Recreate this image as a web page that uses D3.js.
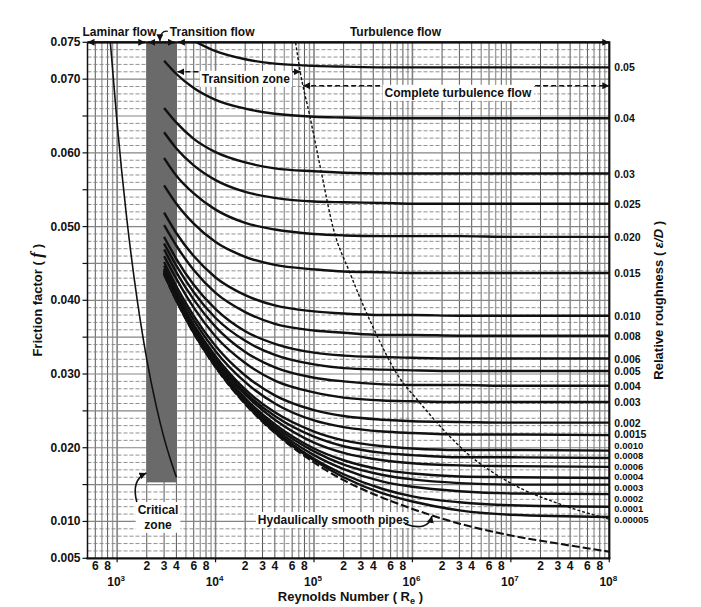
<!DOCTYPE html>
<html>
<head>
<meta charset="utf-8">
<script src="https://cdn.jsdelivr.net/npm/d3@7"></script>
<style>
  body { margin: 0; background: #fff; }
  text { font-family: "Liberation Sans", Arial, sans-serif; font-weight: bold; fill: #111; }
</style>
</head>
<body>
<div id="chart"></div>
<script>
// Reynolds numbers where the roughness curves were read
var reynolds = [3000, 4000, 6000, 1e4, 2e4, 4e4, 1e5, 2e5, 5e5, 1e6, 3e6, 1e7, 1e8];

var roughnessLabels = ["0.05", "0.04", "0.03", "0.025", "0.020", "0.015", "0.010", "0.008",
    "0.006", "0.005", "0.004", "0.003", "0.002", "0.0015", "0.0010", "0.0008",
    "0.0006", "0.0004", "0.0003", "0.0002", "0.0001", "0.00005"];

// friction factor per roughness, one row per label, values at the reynolds above
var frictionCurves = [
    [null, null, 0.0752, 0.0738, 0.0727, 0.0721, 0.0718, 0.0717, 0.0716, 0.0716, 0.0716, 0.0716, 0.0716],
    [0.0725, 0.0707, 0.0688, 0.0672, 0.0660, 0.0653, 0.0649, 0.0648, 0.0647, 0.0647, 0.0647, 0.0647, 0.0647],
    [0.0661, 0.0641, 0.0619, 0.0601, 0.0587, 0.0579, 0.0575, 0.0573, 0.0572, 0.0572, 0.0572, 0.0572, 0.0572],
    [0.0628, 0.0606, 0.0583, 0.0563, 0.0547, 0.0539, 0.0534, 0.0533, 0.0532, 0.0531, 0.0531, 0.0531, 0.0531],
    [0.0593, 0.0569, 0.0545, 0.0523, 0.0505, 0.0496, 0.0490, 0.0488, 0.0487, 0.0487, 0.0487, 0.0486, 0.0486],
    [0.0556, 0.0531, 0.0504, 0.0479, 0.0459, 0.0448, 0.0442, 0.0439, 0.0438, 0.0437, 0.0437, 0.0437, 0.0437],
    [0.0519, 0.0491, 0.0460, 0.0431, 0.0407, 0.0393, 0.0385, 0.0382, 0.0380, 0.0380, 0.0379, 0.0379, 0.0379],
    [0.0502, 0.0474, 0.0441, 0.0410, 0.0384, 0.0368, 0.0359, 0.0356, 0.0353, 0.0353, 0.0352, 0.0352, 0.0352],
    [0.0486, 0.0456, 0.0421, 0.0388, 0.0358, 0.0341, 0.0329, 0.0325, 0.0323, 0.0322, 0.0321, 0.0321, 0.0321],
    [0.0477, 0.0447, 0.0411, 0.0376, 0.0345, 0.0326, 0.0313, 0.0308, 0.0306, 0.0305, 0.0304, 0.0304, 0.0304],
    [0.0469, 0.0438, 0.0401, 0.0364, 0.0330, 0.0309, 0.0295, 0.0290, 0.0286, 0.0285, 0.0285, 0.0284, 0.0284],
    [0.0460, 0.0429, 0.0390, 0.0351, 0.0315, 0.0291, 0.0275, 0.0268, 0.0264, 0.0263, 0.0262, 0.0262, 0.0262],
    [0.0452, 0.0419, 0.0379, 0.0338, 0.0298, 0.0271, 0.0251, 0.0243, 0.0238, 0.0236, 0.0235, 0.0234, 0.0234],
    [0.0447, 0.0414, 0.0373, 0.0331, 0.0289, 0.0260, 0.0237, 0.0228, 0.0222, 0.0220, 0.0218, 0.0218, 0.0217],
    [0.0443, 0.0409, 0.0367, 0.0324, 0.0279, 0.0248, 0.0222, 0.0210, 0.0202, 0.0199, 0.0197, 0.0197, 0.0196],
    [0.0441, 0.0407, 0.0365, 0.0321, 0.0275, 0.0243, 0.0215, 0.0202, 0.0193, 0.0190, 0.0187, 0.0187, 0.0186],
    [0.0440, 0.0405, 0.0362, 0.0318, 0.0272, 0.0238, 0.0207, 0.0193, 0.0183, 0.0179, 0.0176, 0.0175, 0.0174],
    [0.0438, 0.0403, 0.0360, 0.0315, 0.0267, 0.0232, 0.0199, 0.0183, 0.0170, 0.0165, 0.0161, 0.0160, 0.0159],
    [0.0438, 0.0402, 0.0359, 0.0314, 0.0265, 0.0229, 0.0195, 0.0177, 0.0163, 0.0157, 0.0152, 0.0150, 0.0150],
    [0.0437, 0.0401, 0.0358, 0.0312, 0.0263, 0.0226, 0.0190, 0.0171, 0.0154, 0.0147, 0.0141, 0.0138, 0.0137],
    [0.0436, 0.0400, 0.0356, 0.0310, 0.0261, 0.0223, 0.0185, 0.0164, 0.0144, 0.0134, 0.0126, 0.0122, 0.0120],
    [0.0436, 0.0400, 0.0356, 0.0310, 0.0260, 0.0221, 0.0183, 0.0160, 0.0138, 0.0127, 0.0115, 0.0109, 0.0106]
];

// hydraulically smooth pipes
var smoothRe = [3000, 4000, 6000, 1e4, 2e4, 4e4, 1e5, 2e5, 5e5, 1e6, 3e6, 1e7, 3e7, 1e8];
var smoothF = [0.0435, 0.0399, 0.0355, 0.0309, 0.0259, 0.0220, 0.0180, 0.0156, 0.0132, 0.0117, 0.0097, 0.0081, 0.0070, 0.0059];

// laminar flow line
var laminarRe = [853, 1000, 1250, 1500, 2000, 2500, 3000, 3500, 4000];
var laminarF = [0.0750, 0.0640, 0.0512, 0.0427, 0.0320, 0.0256, 0.0213, 0.0183, 0.0160];

// border between transition zone and complete turbulence
var boundaryRe = [65000, 72000, 91000, 119000, 156000, 232000, 433000, 690000, 1.19e6, 1.98e6, 3.56e6, 9.35e6, 3.39e7, 1e8];
var boundaryF = [0.0750, 0.0712, 0.0649, 0.0573, 0.0499, 0.0437, 0.0353, 0.0301, 0.0261, 0.0227, 0.0193, 0.0154, 0.0122, 0.0103];

// critical zone band
var criticalRe = [2000, 4000];
var criticalF = [0.0153, 0.075];

var yTickLabels = [0.075, 0.070, 0.060, 0.050, 0.040, 0.030, 0.020, 0.010, 0.005];
var minorTickDigits = [2, 3, 4, 6, 8];
var decadeExps = [3, 4, 5, 6, 7, 8];

var W = 701, H = 607;
var margin = { top: 42.3, right: 91.7, bottom: 48.7, left: 87.5 };

var svg = d3.select("#chart").append("svg")
    .attr("width", W)
    .attr("height", H);

var x = d3.scaleLog().domain([500, 1e8]).range([margin.left, W - margin.right]);
var y = d3.scaleLinear().domain([0.005, 0.075]).range([H - margin.bottom, margin.top]);
var x0 = x.range()[0], x1 = x.range()[1], y0 = y.range()[0], y1 = y.range()[1];

var defs = svg.append("defs");
defs.append("clipPath").attr("id", "plotClip")
    .append("rect").attr("x", x0).attr("y", y1).attr("width", x1 - x0).attr("height", y0 - y1);
defs.append("marker")
    .attr("id", "arr")
    .attr("viewBox", "0 0 10 10")
    .attr("refX", 10).attr("refY", 5)
    .attr("markerWidth", 7).attr("markerHeight", 7)
    .attr("markerUnits", "userSpaceOnUse")
    .attr("orient", "auto-start-reverse")
    .append("path").attr("d", "M0,0L10,5L0,10z").attr("fill", "#111");

// grid - vertical lines
var gridRe = [];
for (var k = 2; k <= 7; k++) {
    for (var m = 1; m <= 9; m++) {
        var v = m * Math.pow(10, k);
        if (v > 500 * 1.001 && v < 1e8 * 0.999) gridRe.push({ v: v, m: m });
    }
}
var grid = svg.append("g");
grid.selectAll(".vg").data(gridRe).enter().append("line")
    .attr("x1", d => x(d.v)).attr("x2", d => x(d.v))
    .attr("y1", y1).attr("y2", y0)
    .attr("stroke", d => d.m == 1 ? "#808080" : (d.m == 5 || d.m == 7 || d.m == 9) ? "#a0a0a0" : "#444")
    .attr("stroke-width", d => d.m == 1 ? 1.6 : (d.m == 5 || d.m == 7 || d.m == 9) ? 1.4 : 0.9);

// grid - horizontal lines, every 0.001, solid on the 0.005 steps
var gridF = d3.range(6, 75);
grid.selectAll(".hg").data(gridF).enter().append("line")
    .attr("x1", x0).attr("x2", x1)
    .attr("y1", d => y(d / 1000)).attr("y2", d => y(d / 1000))
    .attr("stroke", "#858585")
    .attr("stroke-width", d => d % 5 == 0 ? 1.2 : 0.9)
    .attr("stroke-dasharray", d => d % 5 == 0 ? null : "4,2");

// critical zone
svg.append("rect")
    .attr("x", x(criticalRe[0])).attr("width", x(criticalRe[1]) - x(criticalRe[0]))
    .attr("y", y(criticalF[1])).attr("height", y(criticalF[0]) - y(criticalF[1]))
    .attr("fill", "#6a6a6a");

var plot = svg.append("g").attr("clip-path", "url(#plotClip)");
var line = d3.line()
    .defined(d => d[1] != null)
    .x(d => x(d[0])).y(d => y(d[1]))
    .curve(d3.curveMonotoneX);

plot.append("path")
    .attr("d", line(d3.zip(laminarRe, laminarF)))
    .attr("fill", "none").attr("stroke", "#111").attr("stroke-width", 1.6);

plot.selectAll(".rough").data(frictionCurves).enter().append("path")
    .attr("d", d => line(d3.zip(reynolds, d)))
    .attr("fill", "none").attr("stroke", "#111").attr("stroke-width", 2.4);

plot.append("path")
    .attr("d", line(d3.zip(smoothRe, smoothF)))
    .attr("fill", "none").attr("stroke", "#111").attr("stroke-width", 2.1)
    .attr("stroke-dasharray", "8,3");

plot.append("path")
    .attr("d", line(d3.zip(boundaryRe, boundaryF)))
    .attr("fill", "none").attr("stroke", "#111").attr("stroke-width", 1.4)
    .attr("stroke-dasharray", "3,2");

// frame
svg.append("line").attr("x1", x0).attr("x2", x0).attr("y1", y1).attr("y2", y0)
    .attr("stroke", "#111").attr("stroke-width", 1.5);
svg.append("line").attr("x1", x1).attr("x2", x1).attr("y1", y1 - 1).attr("y2", y0 + 1)
    .attr("stroke", "#111").attr("stroke-width", 2.2);
svg.append("line").attr("x1", x0 - 1).attr("x2", x1 + 1).attr("y1", y0).attr("y2", y0)
    .attr("stroke", "#111").attr("stroke-width", 2.2);
svg.append("line").attr("x1", x0).attr("x2", x1).attr("y1", y1).attr("y2", y1)
    .attr("stroke", "#111").attr("stroke-width", 2.2);

// left axis ticks and labels
svg.selectAll(".yt").data(d3.range(5, 80, 5)).enter().append("line")
    .attr("x1", x0 - 5).attr("x2", x0)
    .attr("y1", d => y(d / 1000)).attr("y2", d => y(d / 1000))
    .attr("stroke", "#111").attr("stroke-width", 1.2);
svg.selectAll(".yl").data(yTickLabels).enter().append("text")
    .attr("x", x0 - 7).attr("y", d => y(d))
    .attr("text-anchor", "end").attr("dominant-baseline", "central")
    .style("font-size", "12px")
    .text(d => d3.format(".3f")(d));

// bottom axis labels
var minorTicks = [];
for (var e = 2; e <= 7; e++) {
    minorTickDigits.forEach(function (dg) {
        var v = dg * Math.pow(10, e);
        if (v >= 500 && v <= 1e8) minorTicks.push({ v: v, t: dg });
    });
}
svg.selectAll(".xl").data(minorTicks).enter().append("text")
    .attr("x", d => x(d.v)).attr("y", y0 + 12)
    .attr("text-anchor", "middle").style("font-size", "12px")
    .text(d => d.t);
svg.selectAll(".xt").data(decadeExps).enter().append("line")
    .attr("x1", d => x(Math.pow(10, d))).attr("x2", d => x(Math.pow(10, d)))
    .attr("y1", y0).attr("y2", y0 + 4)
    .attr("stroke", "#111").attr("stroke-width", 1.2);
var dec = svg.selectAll(".xd").data(decadeExps).enter().append("text")
    .attr("x", d => x(Math.pow(10, d)) - 1).attr("y", y0 + 27.5)
    .attr("text-anchor", "middle").style("font-size", "12px");
dec.append("tspan").text("10");
dec.append("tspan").attr("dy", -5).style("font-size", "8px").text(d => d);

// roughness labels on the right; crowded ones get a smaller size and are pushed apart
var labelY = frictionCurves.map(d => y(d[d.length - 1]));
var crowded = labelY.map(function (v, i) {
    var up = i > 0 ? v - labelY[i - 1] : 99;
    var dn = i < labelY.length - 1 ? labelY[i + 1] - v : 99;
    return Math.min(up, dn) < 11;
});
var minGap = 10.6;
for (var it = 0; it < 300; it++) {
    for (var i = 1; i < labelY.length; i++) {
        var gap = labelY[i] - labelY[i - 1];
        if (gap < minGap) {
            var s = (minGap - gap) / 2;
            labelY[i - 1] -= s;
            labelY[i] += s;
        }
    }
}
svg.selectAll(".rl").data(roughnessLabels).enter().append("text")
    .attr("x", x1 + 5).attr("y", (d, i) => labelY[i])
    .attr("dominant-baseline", "central")
    .style("font-size", (d, i) => crowded[i] ? "9.5px" : "10.5px")
    .text(d => d);

// axis titles
var yt = svg.append("text")
    .attr("transform", "translate(42," + ((y0 + y1) / 2) + ") rotate(-90)")
    .attr("text-anchor", "middle").style("font-size", "13px");
yt.append("tspan").text("Friction factor ( ");
yt.append("tspan").style("font-family", "'Liberation Serif', serif").style("font-style", "italic")
    .style("font-size", "17px").text("f");
yt.append("tspan").text(" )");

var rt = svg.append("text")
    .attr("transform", "translate(663," + ((y0 + y1) / 2) + ") rotate(-90)")
    .attr("text-anchor", "middle").style("font-size", "13px");
rt.append("tspan").text("Relative roughness ( ");
rt.append("tspan").style("font-style", "italic").text("\u025B/D");
rt.append("tspan").text(" )");

var xt = svg.append("text")
    .attr("x", (x0 + x1) / 2 + 2).attr("y", y0 + 43)
    .attr("text-anchor", "middle").style("font-size", "13px");
xt.append("tspan").text("Reynolds Number ( R");
xt.append("tspan").attr("dy", 3).style("font-size", "9px").text("e");
xt.append("tspan").attr("dy", -3).text(" )");

// annotations
var annot = svg.append("g");
function label(txt, px, py, anchor, size) {
    var t = annot.append("text").attr("x", px).attr("y", py)
        .attr("text-anchor", anchor).style("font-size", (size || 12) + "px").text(txt);
    return t;
}
function backing(sel) {
    var b = sel.node().getBBox();
    annot.insert("rect", function () { return sel.node(); })
        .attr("x", b.x - 2).attr("y", b.y - 1).attr("width", b.width + 4).attr("height", b.height + 2)
        .attr("fill", "#fff");
}

// top flow regimes
label("Laminar flow", x0 - 5, y1 - 6, "start");
label("Transition flow", x(3430), y1 - 6, "start");
label("Turbulence flow", x(231700), y1 - 6, "start");
var topArrows = [[500, 2000, 0, -1.5], [2000, 4000, 1.5, -1.5], [4000, 1e8, 1.5, 0]];
annot.selectAll(".ta").data(topArrows).enter().append("line")
    .attr("x1", d => x(d[0]) + d[2]).attr("x2", d => x(d[1]) + d[3])
    .attr("y1", y1).attr("y2", y1)
    .attr("stroke", "#111").attr("stroke-width", 2)
    .attr("marker-start", "url(#arr)").attr("marker-end", "url(#arr)");
annot.append("path")
    .attr("d", "M" + (x(3430) - 2) + "," + (y1 - 11) + "Q" + x(2720) + "," + (y1 - 12) + " " + x(2720) + "," + (y1 - 1))
    .attr("fill", "none").attr("stroke", "#111").attr("stroke-width", 1.3)
    .attr("marker-end", "url(#arr)");

// transition zone / complete turbulence arrows
annot.append("line")
    .attr("x1", x(4000) + 1).attr("x2", x(73000))
    .attr("y1", y(0.0710)).attr("y2", y(0.0710))
    .attr("stroke", "#111").attr("stroke-width", 1.6).attr("stroke-dasharray", "5,3")
    .attr("marker-start", "url(#arr)").attr("marker-end", "url(#arr)");
annot.append("line")
    .attr("x1", x(77600)).attr("x2", x(1e8))
    .attr("y1", y(0.0691)).attr("y2", y(0.0691))
    .attr("stroke", "#111").attr("stroke-width", 1.6).attr("stroke-dasharray", "5,3")
    .attr("marker-start", "url(#arr)").attr("marker-end", "url(#arr)");
backing(label("Transition zone", x(20300), y(0.0695), "middle"));
backing(label("Complete turbulence flow", x(2.9e6), y(0.0676), "middle"));

// critical zone note
var crit = annot.append("g");
crit.append("text").attr("x", x(2600)).attr("y", y(0.0110)).attr("text-anchor", "middle")
    .style("font-size", "12px").text("Critical");
crit.append("text").attr("x", x(2600)).attr("y", y(0.0090)).attr("text-anchor", "middle")
    .style("font-size", "12px").text("zone");
backing(crit);
annot.append("path")
    .attr("d", "M" + x(1585) + "," + y(0.01264) + "Q" + x(1378) + "," + y(0.01562) + " " + x(1983) + "," + y(0.01657))
    .attr("fill", "none").attr("stroke", "#111").attr("stroke-width", 1.6)
    .attr("marker-end", "url(#arr)");

// smooth pipes note
backing(label("Hydaulically smooth pipes", x(26900), y(0.00965), "start"));
annot.append("path")
    .attr("d", "M" + x(8.4e5) + "," + y(0.00965) + "Q" + x(1.44e6) + "," + y(0.00857) + " " + x(1.58e6) + "," + y(0.01074))
    .attr("fill", "none").attr("stroke", "#111").attr("stroke-width", 1.6)
    .attr("marker-end", "url(#arr)");
</script>
</body>
</html>
